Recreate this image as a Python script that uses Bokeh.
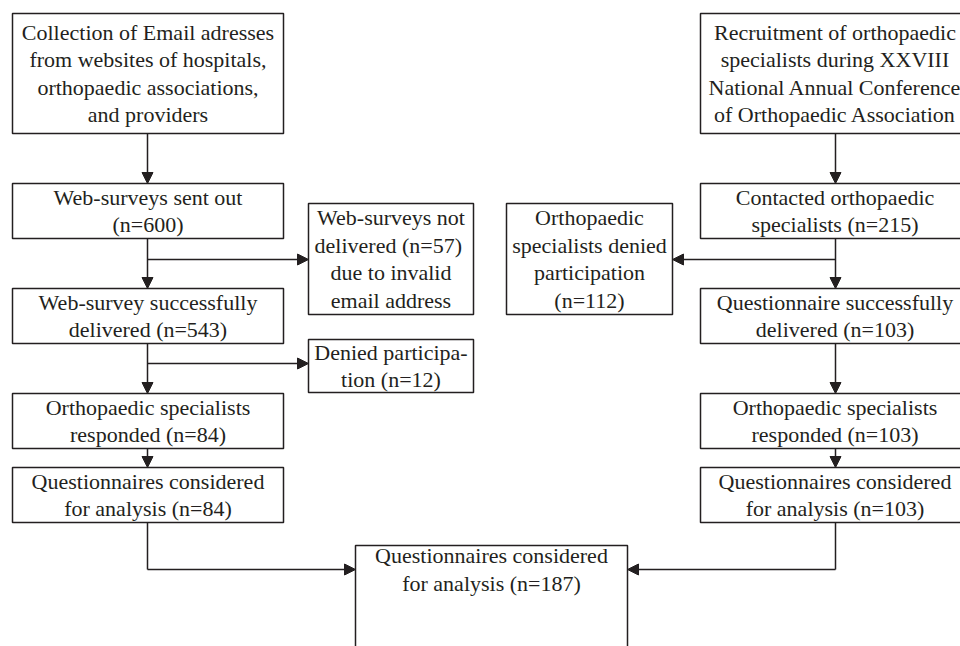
from bokeh.plotting import figure
from bokeh.models import Range1d, ColumnDataSource, Arrow, NormalHead
from bokeh.core.properties import value
from bokeh.embed import file_html
from bokeh.resources import INLINE

# ---- content (texts and counts) ----
left_labels = [
    "Collection of Email adresses\nfrom websites of hospitals,\northopaedic associations,\nand providers",
    "Web-surveys sent out\n(n={})",
    "Web-survey successfully\ndelivered (n={})",
    "Orthopaedic specialists\nresponded (n={})",
    "Questionnaires considered\nfor analysis (n={})",
]
left_counts = [None, 600, 543, 84, 84]
left_side_labels = ["Web-surveys not\ndelivered  (n={})\ndue to invalid\nemail address", "Denied participa-\ntion (n={})"]
left_side_counts = [57, 12]

right_labels = [
    "Recruitment of orthopaedic\nspecialists during XXVIII\nNational Annual Conference\nof Orthopaedic Association",
    "Contacted orthopaedic\nspecialists (n={})",
    "Questionnaire successfully\ndelivered (n={})",
    "Orthopaedic specialists\nresponded (n={})",
    "Questionnaires considered\nfor analysis (n={})",
]
right_counts = [None, 215, 103, 103, 103]
right_side_label = "Orthopaedic\nspecialists denied\nparticipation\n(n={})"
right_side_count = 112

final_label = "Questionnaires considered\nfor analysis (n={})"
final_count = 187

# ---- layout (pixel-like coordinates) ----
INK = "#231f20"
FONT = "Liberation Serif"
FS = "22px"

col_rows = [(13, 133), (183, 238), (288, 343), (393, 448), (467, 522)]
L_x = (12, 283)
R_x = (700, 971)
L_c = 147
R_c = 835

def fmt(lbl, n):
    return lbl.format(n) if n is not None else lbl

boxes = []  # (left, right, top, bottom, text, tx, ty)
for (t, b), lbl, n in zip(col_rows, left_labels, left_counts):
    boxes.append((L_x[0], L_x[1], t, b, fmt(lbl, n), (L_x[0] + L_x[1]) / 2, (t + b) / 2))
for (t, b), lbl, n in zip(col_rows, right_labels, right_counts):
    boxes.append((R_x[0], R_x[1], t, b, fmt(lbl, n), (R_x[0] + R_x[1]) / 2 - 1, (t + b) / 2))
boxes.append((308, 473, 203, 314, fmt(left_side_labels[0], left_side_counts[0]), 390.5, 258.5))
boxes.append((308, 473, 339, 392, fmt(left_side_labels[1], left_side_counts[1]), 390.5, 365.5))
boxes.append((506, 672, 203, 314, fmt(right_side_label, right_side_count), 589, 258.5))
boxes.append((355, 627, 545, 670, fmt(final_label, final_count), 491, 569))

p = figure(width=960, height=646, output_backend="svg", toolbar_location=None,
           x_range=Range1d(0, 960), y_range=Range1d(646, 0), min_border=0)
p.axis.visible = False
p.grid.visible = False
p.outline_line_color = None
p.background_fill_color = "white"
p.border_fill_color = "white"

bsrc = ColumnDataSource(dict(
    left=[b[0] for b in boxes], right=[b[1] for b in boxes],
    top=[b[2] for b in boxes], bottom=[b[3] for b in boxes],
    text=[b[4] for b in boxes], tx=[b[5] for b in boxes], ty=[b[6] for b in boxes],
))
p.quad(left="left", right="right", top="top", bottom="bottom", source=bsrc,
       fill_color="white", line_color=INK, line_width=1.5)
p.text(x="tx", y="ty", text="text", source=bsrc, text_font=value(FONT),
       text_font_size=FS, text_align="center", text_baseline="middle",
       text_color=INK, text_line_height=1.1)

# plain connector lines
lines = [
    (L_c, 522, L_c, 569),
    (R_c, 522, R_c, 569),
]
p.segment(x0=[l[0] for l in lines], y0=[l[1] for l in lines],
          x1=[l[2] for l in lines], y1=[l[3] for l in lines],
          line_color=INK, line_width=1.5)

arrows = [
    (L_c, 133, L_c, 183), (L_c, 238, L_c, 288), (L_c, 259, 308, 259),
    (L_c, 343, L_c, 393), (L_c, 363, 308, 363), (L_c, 448, L_c, 467),
    (L_c, 569, 355, 569),
    (R_c, 133, R_c, 183), (R_c, 238, R_c, 288), (R_c, 259, 672, 259),
    (R_c, 343, R_c, 393), (R_c, 448, R_c, 467), (R_c, 569, 627, 569),
]
asrc = ColumnDataSource(dict(x0=[a[0] for a in arrows], y0=[a[1] for a in arrows],
                             x1=[a[2] for a in arrows], y1=[a[3] for a in arrows]))
p.add_layout(Arrow(end=NormalHead(size=11, fill_color=INK, line_color=INK, line_width=1),
                   x_start="x0", y_start="y0", x_end="x1", y_end="y1", source=asrc,
                   line_color=INK, line_width=1.5))

open("out.html", "w").write(file_html(p, INLINE))
